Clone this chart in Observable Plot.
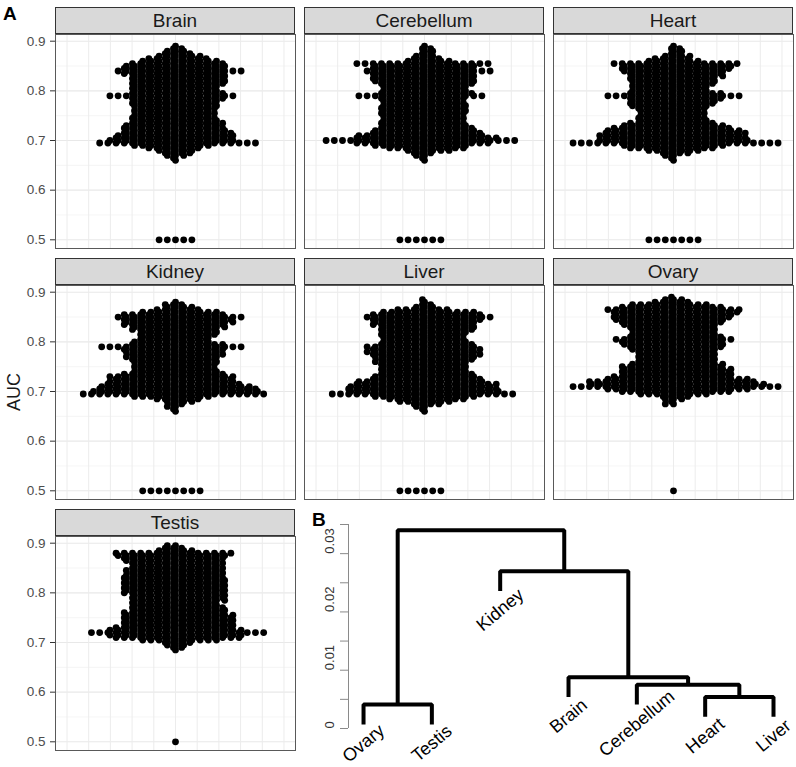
<!DOCTYPE html>
<html><head><meta charset="utf-8">
<script src="https://cdn.jsdelivr.net/npm/d3@7"></script>
<script src="https://cdn.jsdelivr.net/npm/@observablehq/plot@0.6"></script>
<style>
body{margin:0;background:#fff;}
#fig{position:relative;width:796px;height:767px;background:#fff;font-family:"Liberation Sans",Arial,Helvetica,sans-serif;overflow:hidden}
.strip{position:absolute;box-sizing:border-box;background:#d9d9d9;border:1px solid #333;height:27px;width:240px;text-align:center;font-size:19px;line-height:25px;color:#1a1a1a}
.abs{position:absolute}
.tag{position:absolute;font-weight:bold;font-size:19px;line-height:19px;color:#000}
</style></head><body><div id="fig"></div><script>
// ---------- data ----------
const tissues = ["Brain","Cerebellum","Heart","Kidney","Liver","Ovary","Testis"];
const aucLevels = [0.895,0.890,0.885,0.880,0.875,0.870,0.865,0.860,0.855,0.850,
                   0.845,0.840,0.835,0.830,0.825,0.820,0.815,0.810,0.805,0.800,
                   0.795,0.790,0.785,0.780,0.775,0.770,0.765,0.760,0.755,0.750,
                   0.745,0.740,0.735,0.730,0.725,0.720,0.715,0.710,0.705,0.700,
                   0.695,0.690,0.685,0.680,0.675,0.670,0.665,0.660,0.655,0.500];
const countsBrain = [0,1,2,3,4,6,8,10,12,13, 13,16,13,12,12,12,12,11,11,11, 12,16,12,11,11,11,10,10,10,10, 11,11,12,12,13,13,14,15,15,16, 20,10,7,5,4,3,1,1,0,5];
const countsCerebellum = [0,1,2,2,2,3,4,6,17,13, 13,16,13,13,13,13,12,11,10,11, 12,16,11,10,10,11,11,11,11,10, 10,10,11,11,12,13,14,16,18,24, 17,12,10,6,3,2,1,1,0,6];
const countsHeart = [0,1,2,2,2,4,5,7,16,14, 14,13,12,12,11,11,10,10,9,10, 12,17,12,11,11,10,9,8,8,8, 9,9,11,13,15,17,18,18,18,19, 26,13,11,7,4,2,1,1,0,7];
const countsKidney = [0,0,0,1,3,4,6,10,13,16, 14,14,13,12,11,10,10,9,9,10, 12,18,13,12,12,12,11,11,10,10, 10,11,13,16,15,16,17,19,20,21, 23,10,6,4,2,2,1,1,0,8];
const countsLiver = [0,0,1,1,2,3,7,12,14,16, 14,13,13,12,12,11,11,10,10,11, 12,14,14,14,14,13,12,12,11,11, 11,11,12,13,14,16,18,18,19,19, 23,13,10,7,4,2,1,1,0,6];
const countsOvary = [0,1,3,5,10,13,17,16,15,15, 14,13,12,11,11,10,11,12,15,13, 13,12,11,10,10,10,10,10,12,13, 14,14,14,15,18,21,22,26,18,14, 9,4,3,1,2,0,0,0,0,1];
const countsTestis = [2,3,5,15,14,13,12,12,11,12, 12,12,12,13,13,13,13,13,13,13, 12,12,12,11,11,12,12,13,14,14, 14,14,14,15,17,22,17,16,10,4, 3,2,1,0,0,0,0,0,0,1];
const panelCounts = [countsBrain,countsCerebellum,countsHeart,countsKidney,countsLiver,countsOvary,countsTestis];
const yTicks = [0.5,0.6,0.7,0.8,0.9];
const yMinor = [0.55,0.65,0.75,0.85];
const xGrid = [-5,-4,-3,-2,-1,0,1,2,3,4,5];

// dendrogram (R-style merge table; negative = leaf position in leafOrder)
const leafOrder = ["Ovary","Testis","Kidney","Brain","Cerebellum","Heart","Liver"];
const mergeA = [-6,-1,-5,-4,-3,2];
const mergeB = [-7,-2,1,3,4,5];
const mergeHeight = [0.0054,0.0041,0.0075,0.0088,0.0270,0.0340];
const dendroTicks = [0,0.005,0.01,0.015,0.02,0.025,0.03,0.035];
const dendroLabels = [0,0.01,0.02,0.03];

// ---------- layout ----------
const colLeft = [55,304,553], rowTop = [7,258,509];
const PW = 240, PH = 214, STRIP = 27;
const FONT = "'Liberation Sans', Arial, Helvetica, sans-serif";
const fig = document.getElementById("fig");

function place(el, left, top) {
  const w = document.createElement("div");
  w.className = "abs"; w.style.left = left + "px"; w.style.top = top + "px";
  w.appendChild(el); fig.appendChild(w); return w;
}

// anisotropic beeswarm computed through the y scale
function swarm(options) {
  return Plot.initializer(options, (data, facets, channels, scales, dims) => {
    const V = channels.y.value;
    const n = V.length;
    const cx = (dims.marginLeft + dims.width - dims.marginRight) / 2;
    const X = new Float64Array(n), Y = new Float64Array(n);
    for (let i = 0; i < n; i++) Y[i] = scales.y(V[i]);
    const D = 8.2, K = 3.2, D2 = D * D;
    for (const I of facets) {
      const placed = [];
      for (const i of I) {
        const yi = Y[i], nb = [];
        for (const j of placed) { const dy = (Y[j] - yi) * K; if (dy * dy < D2) nb.push([X[j], D2 - dy * dy]); }
        const cands = [0];
        for (const [xj, r2] of nb) { const s = Math.sqrt(r2); cands.push(xj - s, xj + s); }
        cands.sort((a, b) => Math.abs(a) - Math.abs(b));
        let best = 0;
        for (const c of cands) {
          let ok = true;
          for (const [xj, r2] of nb) { const dx = c - xj; if (dx * dx < r2 - 1e-6) { ok = false; break; } }
          if (ok) { best = c; break; }
        }
        X[i] = best; placed.push(i);
      }
    }
    return {data, facets, channels: {x: {value: Array.from(X, v => v + cx)}, y: {value: Array.from(Y)}}};
  });
}

function makePanel(idx) {
  const counts = panelCounts[idx];
  const pts = [];
  aucLevels.forEach((v, i) => { for (let k = 0; k < counts[i]; k++) pts.push({auc: v}); });
  pts.sort((a, b) => a.auc - b.auc);
  const col = idx % 3, row = Math.floor(idx / 3);
  const showAxis = col === 0;
  const ml = showAxis ? 55 : 0;
  const svg = Plot.plot({
    width: PW + ml, height: PH,
    marginLeft: ml, marginRight: 0, marginTop: 0, marginBottom: 0,
    x: {domain: [-5.53, 5.53], axis: null},
    y: {domain: [0.4825, 0.9135], axis: null},
    style: {background: "transparent", overflow: "visible", fontFamily: FONT},
    marks: [
      Plot.ruleY(yMinor, {stroke: "#f1f1f1", strokeWidth: 0.7}),
      Plot.ruleY(yTicks, {stroke: "#e8e8e8", strokeWidth: 1.1}),
      Plot.ruleX(xGrid, {stroke: "#ececec", strokeWidth: 1}),
      Plot.dot(pts, swarm({y: "auc", r: 3.4, fill: "#000", stroke: null})),
      Plot.frame({stroke: "#595959", strokeWidth: 1}),
      showAxis ? Plot.axisY({ticks: yTicks, tickSize: 5, tickPadding: 5, tickFormat: d3.format(".1f"),
        label: null, fontSize: 13.5, stroke: "#333", fill: "#4d4d4d"}) : null
    ]
  });
  place(svg, colLeft[col] - ml, rowTop[row] + STRIP);
  const s = document.createElement("div");
  s.className = "strip"; s.textContent = tissues[idx];
  s.style.left = colLeft[col] + "px"; s.style.top = rowTop[row] + "px";
  fig.appendChild(s);
}
tissues.forEach((t, i) => makePanel(i));

// dendrogram
(function () {
  const hang = 0.1 * d3.max(mergeHeight);
  const nodeX = [], nodeH = [];
  const segs = [], leaves = [];
  const child = (c, h) => c < 0
    ? {x: -c, y: h - hang, leaf: -c}
    : {x: nodeX[c - 1], y: nodeH[c - 1]};
  mergeHeight.forEach((h, m) => {
    const a = child(mergeA[m], h), b = child(mergeB[m], h);
    nodeX[m] = (a.x + b.x) / 2; nodeH[m] = h;
    segs.push({id: m, x: a.x, y: a.y}, {id: m, x: a.x, y: h}, {id: m, x: b.x, y: h}, {id: m, x: b.x, y: b.y});
    for (const c of [a, b]) if (c.leaf) leaves.push({name: leafOrder[c.leaf - 1], x: c.x, y: c.y});
  });
  const xDom = [0.78, 7];
  const svg = Plot.plot({
    width: 496, height: 267,
    marginLeft: 48, marginRight: 23, marginTop: 24, marginBottom: 39,
    x: {domain: xDom, axis: null},
    y: {domain: [0, 0.035], axis: null},
    style: {background: "transparent", overflow: "visible", fontFamily: FONT},
    marks: [
      Plot.ruleX([xDom[0]], {y1: dendroTicks[0], y2: dendroTicks[dendroTicks.length - 1], stroke: "#8a8a8a", strokeWidth: 1}),
      Plot.axisY({ticks: dendroTicks, tickSize: 8, tickFormat: () => "", label: null, stroke: "#8a8a8a"}),
      Plot.text(dendroLabels, {y: d => d, text: d => d3.format("~g")(d), frameAnchor: "left", dx: -19,
        rotate: -90, fontSize: 13, fill: "#333"}),
      Plot.line(segs, {x: "x", y: "y", z: "id", stroke: "#000", strokeWidth: 4,
        strokeLinejoin: "miter", strokeLinecap: "butt"}),
      Plot.text(leaves, {x: "x", y: "y", text: "name", rotate: -40, textAnchor: "middle",
        dy: 19, fontSize: 18, fill: "#000"})
    ]
  });
  place(svg, 300, 500);
})();

// texts
const A = document.createElement("div"); A.className = "tag"; A.textContent = "A";
A.style.left = "3px"; A.style.top = "4px"; fig.appendChild(A);
const B = document.createElement("div"); B.className = "tag"; B.textContent = "B";
B.style.left = "312px"; B.style.top = "510px"; fig.appendChild(B);
const auc = document.createElement("div");
auc.textContent = "AUC";
Object.assign(auc.style, {position: "absolute", left: "-16px", top: "382px", width: "60px", height: "20px",
  lineHeight: "20px", fontSize: "18px", textAlign: "center", color: "#1a1a1a", transform: "rotate(-90deg)"});
fig.appendChild(auc);
</script></body></html>
